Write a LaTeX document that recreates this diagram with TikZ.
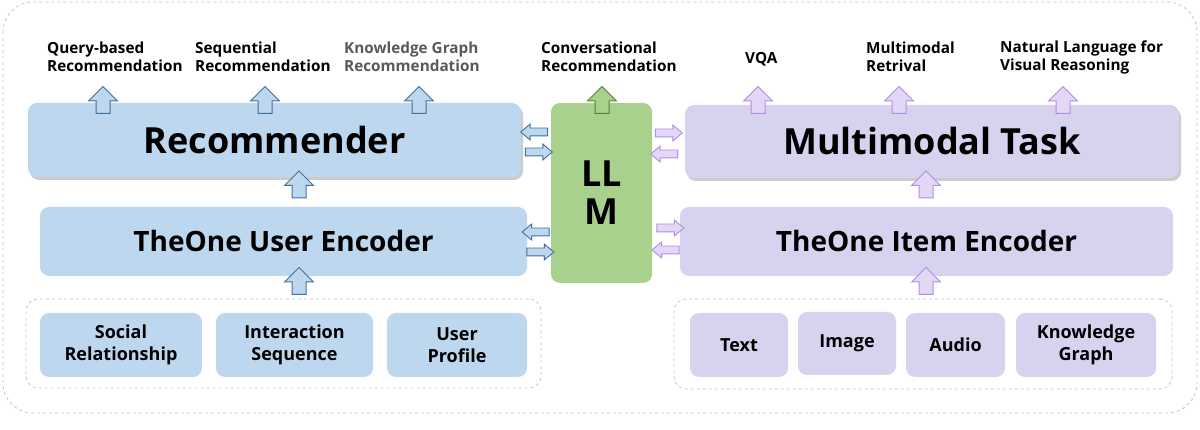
\documentclass[tikz,border=0pt]{standalone}
\usepackage{fontspec}
\setmainfont{Open Sans}
\usetikzlibrary{shapes.arrows,shadows}
\definecolor{recblue}{HTML}{BDD7EE}
\definecolor{arrblue}{HTML}{41719C}
\definecolor{llmgreen}{HTML}{A9D18E}
\definecolor{arrgreen}{HTML}{548235}
\definecolor{mmpurple}{HTML}{D7D3EF}
\definecolor{arrpurple}{HTML}{B48CE6}
\definecolor{arrpurplefill}{HTML}{E2D8F6}
\definecolor{dashgray}{HTML}{C4C4C4}
\definecolor{textgray}{HTML}{595959}
\begin{document}
\begin{tikzpicture}[x=1pt,y=-1pt,font=\bfseries]
\tikzset{box/.style = {rounded corners=9pt, inner sep=0pt, align=center}}
\tikzset{bigtext/.style = {font=\bfseries\fontsize{36}{38}\selectfont}}
\tikzset{enctext/.style = {font=\bfseries\fontsize{28}{32}\selectfont}}
\tikzset{srctext/.style = {font=\bfseries\fontsize{18}{21.5}\selectfont}}
\tikzset{tasktext/.style = {anchor=west, align=left, inner sep=0pt, font=\bfseries\fontsize{15.3}{18}\selectfont}}
\tikzset{group/.style = {draw=dashgray, dashed, rounded corners=12pt, line width=0.8pt}}
\tikzset{shadowed/.style = {drop shadow={shadow xshift=2pt, shadow yshift=-3pt, opacity=0.4}}}
\tikzset{bigarrow/.style = {single arrow, line width=1pt, minimum height=27pt, inner sep=0pt, inner ysep=6.5pt, single arrow head extend=7.5pt, single arrow tip angle=90}}
\tikzset{smallarrow/.style = {single arrow, line width=0.9pt, minimum height=27pt, inner sep=0pt, inner ysep=3.5pt, single arrow head extend=4pt, single arrow tip angle=80}}
\tikzset{blue/.style = {draw=arrblue, fill=recblue}}
\tikzset{green/.style = {draw=arrgreen, fill=llmgreen}}
\tikzset{purple/.style = {draw=arrpurple, fill=arrpurplefill}}
\useasboundingbox (0,0) rectangle (1200,430);
% outer frame
\draw[draw=dashgray, dashed, rounded corners=30pt, line width=0.8pt] (3,2) rectangle (1197,413);
% tasks on top
\node[tasktext] (qry) at (47,57) {Query-based\\Recommendation};
\node[tasktext] (seq) at (195,57) {Sequential\\Recommendation};
\node[tasktext, text=textgray] (kgr) at (344,57) {Knowledge Graph\\Recommendation};
\node[tasktext] (conv) at (541,57) {Conversational\\Recommendation};
\node[tasktext] (vqa) at (745,59) {VQA};
\node[tasktext] (ret) at (866,57) {Multimodal\\Retrival};
\node[tasktext] (nlvr) at (1000,57) {Natural Language for\\Visual Reasoning};
% main boxes
\node[box, shadowed, fill=recblue, minimum width=493pt, minimum height=74pt, bigtext] (rec) at (274.5,140) {Recommender};
\node[box, fill=llmgreen, minimum width=101pt, minimum height=180pt, bigtext] (llm) at (601.5,193) {LL\\M};
\node[box, shadowed, fill=mmpurple, minimum width=494pt, minimum height=73pt, bigtext] (mmt) at (932,141.5) {Multimodal Task};
\node[box, fill=recblue, minimum width=487pt, minimum height=69pt, enctext] (uenc) at (283.5,241.5) {TheOne User Encoder};
\node[box, fill=mmpurple, minimum width=493pt, minimum height=69pt, enctext] (ienc) at (926.5,241.5) {TheOne Item Encoder};
% user side inputs
\node[group, minimum width=515pt, minimum height=89pt] (ugroup) at (283.5,343.5) {};
\node[box, fill=recblue, minimum width=162pt, minimum height=64pt, srctext] (social) at (121,345) {Social\\Relationship};
\node[box, fill=recblue, minimum width=157pt, minimum height=64pt, srctext] (inter) at (294.5,345) {Interaction\\Sequence};
\node[box, fill=recblue, minimum width=140pt, minimum height=64pt, srctext] (prof) at (457,345) {User\\Profile};
% item side inputs
\node[group, minimum width=498pt, minimum height=90pt] (igroup) at (923,344) {};
\node[box, fill=mmpurple, minimum width=98pt, minimum height=64pt, srctext] (txt) at (739,345) {Text};
\node[box, fill=mmpurple, minimum width=98pt, minimum height=63pt, srctext] (img) at (847,343.5) {Image};
\node[box, fill=mmpurple, minimum width=99pt, minimum height=64pt, srctext] (aud) at (955.5,345) {Audio};
\node[box, fill=mmpurple, minimum width=140pt, minimum height=64pt, srctext] (kg) at (1086,345) {Knowledge\\Graph};
% up arrows to the tasks
\node[bigarrow, blue, rotate=90] (a1) at (103,103.5) {};
\node[bigarrow, blue, rotate=90] (a2) at (265,103.5) {};
\node[bigarrow, blue, rotate=90] (a3) at (419,103.5) {};
\node[bigarrow, green, rotate=90] (a4) at (602,103.5) {};
\node[bigarrow, purple, rotate=90] (a5) at (758,103.5) {};
\node[bigarrow, purple, rotate=90] (a6) at (899,103.5) {};
\node[bigarrow, purple, rotate=90] (a7) at (1063,103.5) {};
% up arrows between the layers
\node[bigarrow, blue, rotate=90] (u1) at (299,188) {};
\node[bigarrow, blue, rotate=90] (u2) at (299,284.5) {};
\node[bigarrow, purple, rotate=90] (i1) at (926,188) {};
\node[bigarrow, purple, rotate=90] (i2) at (926,284.5) {};
% arrows to and from the LLM
\node[smallarrow, blue, rotate=180] (h1) at (536.5,132) {};
\node[smallarrow, blue] (h2) at (536.5,152) {};
\node[smallarrow, purple] (h3) at (666.5,133) {};
\node[smallarrow, purple, rotate=180] (h4) at (666.5,154) {};
\node[smallarrow, blue, rotate=180] (h5) at (538,232) {};
\node[smallarrow, blue] (h6) at (538,252) {};
\node[smallarrow, purple] (h7) at (668,228) {};
\node[smallarrow, purple, rotate=180] (h8) at (668,250) {};
\end{tikzpicture}
\end{document}
